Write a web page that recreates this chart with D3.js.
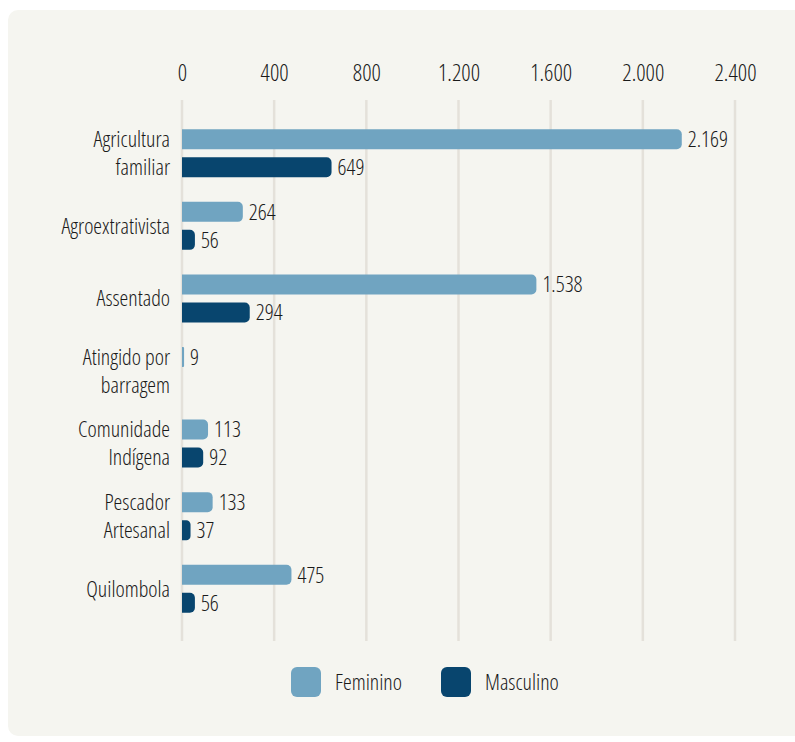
<!DOCTYPE html>
<html>
<head>
<meta charset="utf-8">
<script src="https://cdn.jsdelivr.net/npm/d3@7"></script>
<style>
  body { margin: 0; background: #ffffff; }
  text { font-family: "Open Sans", sans-serif; font-stretch: condensed; font-weight: 350; fill: #1a1a1a; }
</style>
</head>
<body>
<div id="chart-area"></div>
<script>
// data
var categories = [
    ["Agricultura", "familiar"],
    ["Agroextrativista"],
    ["Assentado"],
    ["Atingido por", "barragem"],
    ["Comunidade", "Indígena"],
    ["Pescador", "Artesanal"],
    ["Quilombola"]
];
var feminino = [2169, 264, 1538, 9, 113, 133, 475];
var masculino = [649, 56, 294, null, 92, 37, 56];
var seriesNames = ["Feminino", "Masculino"];
var tickValues = [0, 400, 800, 1200, 1600, 2000, 2400];

var colors = ["#70a4c1", "#08456e"];
var W = 795, H = 742;

var svg = d3.select("#chart-area")
    .append("svg")
        .attr("width", W)
        .attr("height", H);

// panel
svg.append("rect")
    .attr("x", 8).attr("y", 10)
    .attr("width", W + 20).attr("height", H - 16)
    .attr("rx", 10)
    .attr("fill", "#f5f5f0");

var x = d3.scaleLinear()
    .domain([0, 2400])
    .range([182, 735]);

var y = d3.scaleBand()
    .domain(d3.range(categories.length))
    .range([117, 625]);

var barH = 20, gap = 8;

var fmt = function(d){ return d3.format(",")(d).replace(/,/g, "."); };

// grid
svg.append("g").selectAll("line")
    .data(tickValues)
    .enter().append("line")
        .attr("x1", function(d){ return x(d); })
        .attr("x2", function(d){ return x(d); })
        .attr("y1", 100)
        .attr("y2", 641)
        .attr("stroke", "#e4e1da")
        .attr("stroke-width", 2.5);

// top axis
var xAxisCall = d3.axisTop(x)
    .tickValues(tickValues)
    .tickSize(0)
    .tickPadding(0)
    .tickFormat(fmt);
var xAxis = svg.append("g")
    .attr("transform", "translate(0,81)")
    .call(xAxisCall);
xAxis.select(".domain").remove();
xAxis.selectAll("text")
    .attr("font-size", "23px")
    .attr("font-family", null)
    .attr("fill", "#1a1a1a");

// bar path with right side rounded
function barPath(x0, y0, w, h) {
    var r = Math.min(5, w / 2, h / 2);
    return "M" + x0 + "," + y0 +
        "H" + (x0 + w - r) +
        "A" + r + "," + r + " 0 0 1 " + (x0 + w) + "," + (y0 + r) +
        "V" + (y0 + h - r) +
        "A" + r + "," + r + " 0 0 1 " + (x0 + w - r) + "," + (y0 + h) +
        "H" + x0 + "Z";
}

var series = [feminino, masculino];
var groups = svg.append("g");

categories.forEach(function(cat, i) {
    var cy = y(i) + y.bandwidth() / 2;
    series.forEach(function(vals, s) {
        var v = vals[i];
        if (v == null) return;
        var top = s === 0 ? cy - gap / 2 - barH : cy + gap / 2;
        groups.append("path")
            .attr("d", barPath(x(0), top, x(v) - x(0), barH))
            .attr("fill", colors[s]);
        groups.append("text")
            .attr("x", x(v) + 6)
            .attr("y", top + barH / 2)
            .attr("dy", "0.36em")
            .attr("font-size", "22px")
            .text(fmt(v));
    });
    // category label
    var lines = cat;
    var lineH = barH + gap;
    lines.forEach(function(t, k) {
        var ly = cy + (k - (lines.length - 1) / 2) * lineH;
        groups.append("text")
            .attr("x", 170)
            .attr("y", ly)
            .attr("dy", "0.36em")
            .attr("text-anchor", "end")
            .attr("font-size", "22px")
            .text(t);
    });
});

// legend
var legend = svg.append("g")
    .attr("transform", "translate(291,667)");
seriesNames.forEach(function(name, i) {
    var row = legend.append("g")
        .attr("transform", "translate(" + (i * 150) + ",0)");
    row.append("rect")
        .attr("width", 30)
        .attr("height", 30)
        .attr("rx", 6)
        .attr("fill", colors[i]);
    row.append("text")
        .attr("x", 44)
        .attr("y", 15)
        .attr("dy", "0.36em")
        .attr("font-size", "22px")
        .text(name);
});
</script>
</body>
</html>
